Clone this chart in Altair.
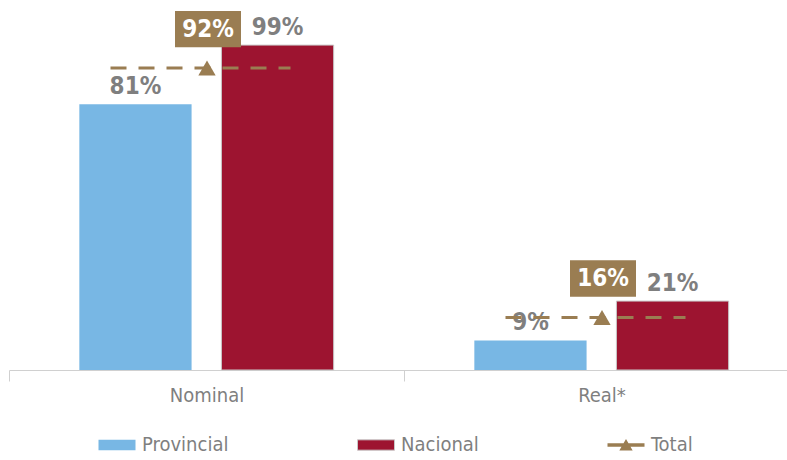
import altair as alt
import pandas as pd

categories = ["Nominal", "Real*"]
series = ["Provincial", "Nacional"]
provincial = [81, 9]
nacional = [99, 21]
total = [92, 16]
legend_items = ["Provincial", "Nacional", "Total"]
colors = ["#78B7E4", "#9D1430", "#9A7D52"]

BROWN = "#9A7D52"
GRAY = "#7F7F7F"
FONT = "DejaVu Sans Condensed"

bars_df = pd.DataFrame({
    "cat": categories * 2,
    "serie": ["Provincial"] * 2 + ["Nacional"] * 2,
    "val": provincial + nacional,
})
bars_df["label"] = bars_df["val"].astype(str) + "%"
tot_df = pd.DataFrame({"cat": categories, "val": total,
                       "label": [f"{v}%" for v in total]})

x = alt.X("cat:N", sort=categories,
          scale=alt.Scale(range=[0, 790], paddingInner=0, paddingOuter=0),
          axis=alt.Axis(title=None, labelAngle=0, tickBand="extent",
                        domainColor="#D0D0D0", tickColor="#D0D0D0", tickSize=11,
                        labelFont=FONT, labelFontSize=20, labelColor=GRAY,
                        labelPadding=4, grid=False))
y = alt.Y("val:Q", scale=alt.Scale(domain=[0, 110]), axis=None)
xoff = alt.XOffset("serie:N", sort=series,
                   scale=alt.Scale(domain=series, paddingInner=0.21, paddingOuter=0.495))

shape_expr = ("datum.value === 'Total' ? "
              "'M-1,-0.09H1V0.09H-1Z M-0.36,0.3L0,-0.32L0.36,0.3Z' : "
              "'M-1,-0.28H1V0.28H-1Z'")
stroke_expr = "datum.value === 'Nacional' ? '#C8C8C8' : 'transparent'"

bars = alt.Chart(bars_df).mark_bar(strokeWidth=1).encode(
    x=x, y=y, xOffset=xoff,
    color=alt.Color("serie:N",
                    scale=alt.Scale(domain=legend_items, range=colors),
                    legend=alt.Legend(title=None, orient="none", legendX=89, legendY=417,
                                      direction="horizontal", columns=3, gridAlign="none",
                                      columnPadding=126, symbolSize=1369,
                                      symbolType=alt.ExprRef(expr=shape_expr),
                                      symbolStrokeColor=alt.ExprRef(expr=stroke_expr),
                                      symbolStrokeWidth=1,
                                      labelFont=FONT, labelFontSize=20, labelColor=GRAY,
                                      labelOffset=6)),
    stroke=alt.condition(alt.datum.serie == "Nacional", alt.value("#C8C8C8"),
                         alt.value("transparent")),
)

labels = alt.Chart(bars_df).mark_text(
    font=FONT, fontSize=24, fontWeight="bold", color=GRAY, baseline="bottom", dy=-5
).encode(x=x, y=y, xOffset=xoff, text="label:N")

rule = alt.Chart(tot_df).mark_rule(
    color=BROWN, strokeWidth=3, strokeDash=[16, 12], xOffset=-96, x2Offset=84
).encode(x=x, x2="cat:N", y=y)

tri = alt.Chart(tot_df).mark_point(
    shape="triangle-up", filled=True, size=300, color=BROWN, opacity=1, xOffset=0.5
).encode(x=x, y=y)

box = alt.Chart(tot_df).mark_point(
    shape="M-1,-0.55H1V0.55H-1Z", filled=True, size=4356, color=BROWN, opacity=1,
    yOffset=-39, xOffset=1.5
).encode(x=x, y=y)

box_text = alt.Chart(tot_df).mark_text(
    font=FONT, fontSize=24, fontWeight="bold", color="white", baseline="middle",
    dy=-38, dx=1.5
).encode(x=x, y=y, text="label:N")

chart = alt.layer(bars, labels, rule, tri, box, box_text).properties(
    width=778, height=361,
    autosize=alt.AutoSizeParams(type="none"),
    padding={"left": 9, "top": 9, "right": 0, "bottom": 90},
).configure_view(stroke=None)

chart.save("out.html", embed_options={"renderer": "svg", "actions": False})
